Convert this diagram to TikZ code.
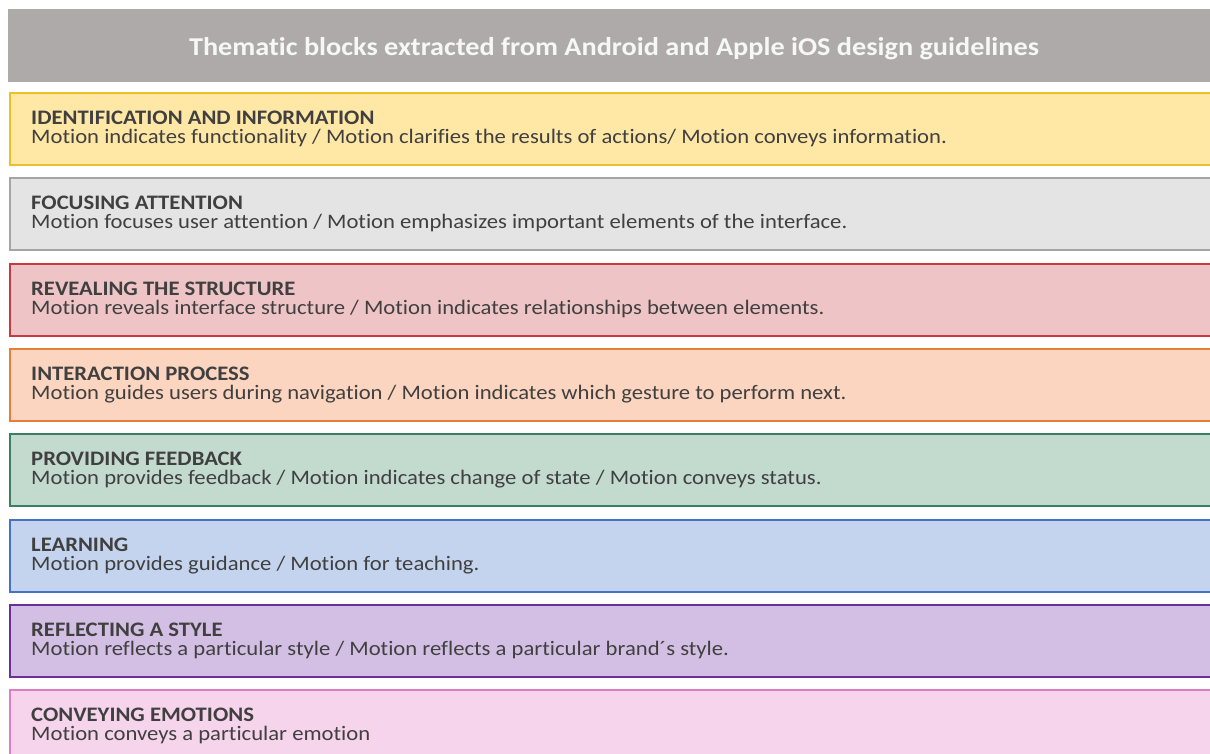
\documentclass[tikz,border=0pt]{standalone}
\usepackage{fontspec}
\setmainfont{Carlito}[Ligatures=NoCommon, FakeStretch=1.1]
\definecolor{hdrgray}{HTML}{AEAAA9}
\definecolor{txtgray}{HTML}{404040}
\definecolor{yfill}{HTML}{FFE7A6}\definecolor{ydraw}{HTML}{EDC02A}
\definecolor{gfill}{HTML}{E4E4E4}\definecolor{gdraw}{HTML}{A5A5A5}
\definecolor{rfill}{HTML}{EFC4C6}\definecolor{rdraw}{HTML}{C43B41}
\definecolor{ofill}{HTML}{FBD5BF}\definecolor{odraw}{HTML}{E67E3A}
\definecolor{tfill}{HTML}{C3DACF}\definecolor{tdraw}{HTML}{3B7F62}
\definecolor{bfill}{HTML}{C4D4EE}\definecolor{bdraw}{HTML}{4472C4}
\definecolor{pfill}{HTML}{D4BFE4}\definecolor{pdraw}{HTML}{6B3096}
\definecolor{kfill}{HTML}{F5D4EC}\definecolor{kdraw}{HTML}{E07CC3}
\begin{document}
\begin{tikzpicture}[x=1pt,y=-1pt,
  band/.style={rectangle, anchor=north west, inner sep=0pt, line width=2pt,
    minimum width=1230pt, minimum height=72pt},
  headtext/.style={anchor=base west, inner sep=0pt, text=txtgray,
    text height=13pt, text depth=0pt,
    font=\fontsize{20.6}{23}\selectfont\bfseries},
  bodytext/.style={anchor=base west, inner sep=0pt, text=txtgray,
    text height=13pt, text depth=4pt,
    font=\fontsize{20.6}{23}\selectfont},
  titletext/.style={anchor=base, inner sep=0pt, text=white!97!black,
    font=\fontsize{25.7}{30}\selectfont\bfseries}]
\useasboundingbox (0,0) rectangle (1210,753);
\clip (0,0) rectangle (1210,753);
% header bar
\node[rectangle, anchor=north west, inner sep=0pt, fill=hdrgray,
  minimum width=1210pt, minimum height=73pt] (hdr) at (8,9) {};
\node[titletext] (title) at (614,55)
  {Thematic blocks extracted from Android and Apple iOS design guidelines};
% thematic bands
\foreach \i/\fc/\dc/\hd/\bd in {
  0/yfill/ydraw/IDENTIFICATION AND INFORMATION/{Motion indicates functionality / Motion clarifies the results of actions/ Motion conveys information.},
  1/gfill/gdraw/FOCUSING ATTENTION/{Motion focuses user attention / Motion emphasizes important elements of the interface.},
  2/rfill/rdraw/REVEALING THE STRUCTURE/{Motion reveals interface structure / Motion indicates relationships between elements.},
  3/ofill/odraw/INTERACTION PROCESS/{Motion guides users during navigation / Motion indicates which gesture to perform next.},
  4/tfill/tdraw/PROVIDING FEEDBACK/{Motion provides feedback / Motion indicates change of state / Motion conveys status.},
  5/bfill/bdraw/LEARNING/{Motion provides guidance / Motion for teaching.},
  6/pfill/pdraw/REFLECTING A STYLE/{Motion reflects a particular style / Motion reflects a particular brand´s style.},
  7/kfill/kdraw/CONVEYING EMOTIONS/{Motion conveys a particular emotion}}{
  \pgfmathsetmacro{\top}{92+85.3*\i}
  \node[band, fill=\fc, draw=\dc] (band\i) at (9,\top) {};
  \node[headtext] (head\i) at (31,\top+32.5) {\hd};
  \node[bodytext] (body\i) at (31,\top+51.5) {\bd};
}
\end{tikzpicture}
\end{document}
